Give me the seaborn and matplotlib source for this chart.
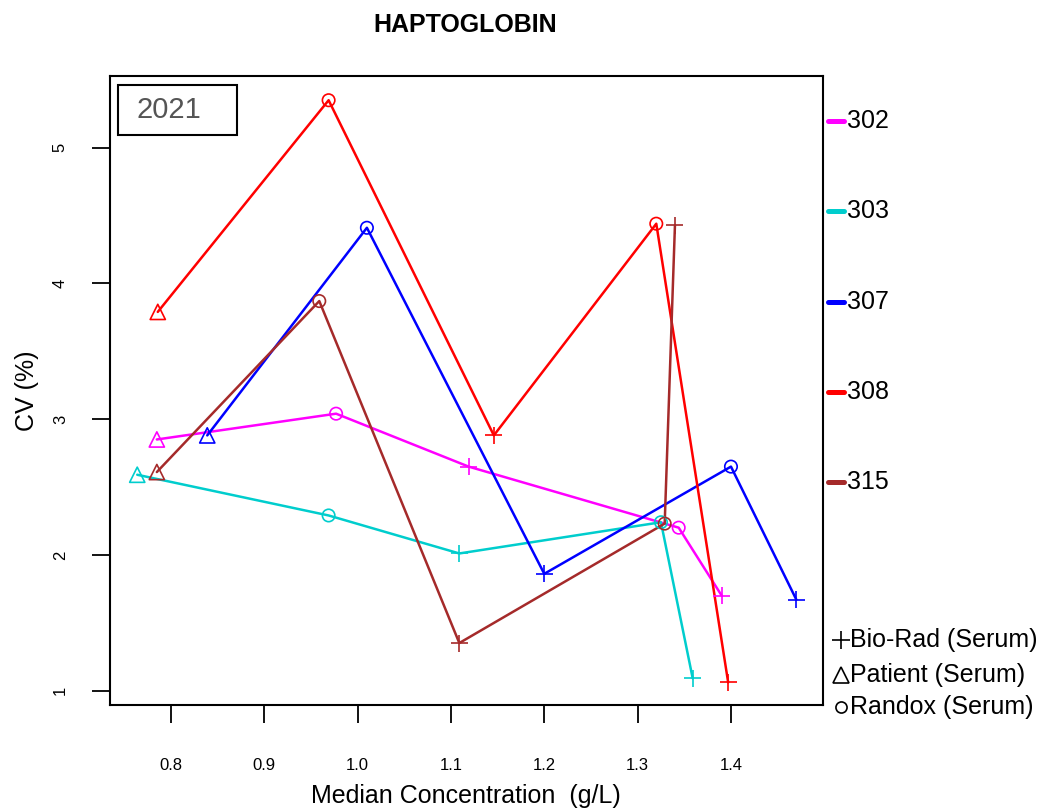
import matplotlib
matplotlib.use("Agg")
import matplotlib.pyplot as plt
from matplotlib.patches import Rectangle
import pandas as pd
import seaborn as sns

# ---- data -------------------------------------------------------------
labs = ["302", "303", "307", "308", "315"]
lab_colors = ["#FF00FF", "#00CDCD", "#0000FF", "#FF0000", "#A52A2A"]

materials = ["Bio-Rad (Serum)", "Patient (Serum)", "Randox (Serum)"]
material_markers = ["+", "^", "o"]

# material of each sample, in order of increasing concentration (same for every lab)
sample_material = ["Patient (Serum)", "Randox (Serum)", "Bio-Rad (Serum)",
                   "Randox (Serum)", "Bio-Rad (Serum)"]

conc_302 = [0.785, 0.977, 1.119, 1.344, 1.390]
cv_302 = [2.85, 3.04, 2.65, 2.20, 1.70]

conc_303 = [0.764, 0.969, 1.109, 1.325, 1.359]
cv_303 = [2.59, 2.29, 2.01, 2.24, 1.09]

conc_307 = [0.839, 1.010, 1.200, 1.400, 1.470]
cv_307 = [2.88, 4.41, 1.86, 2.65, 1.67]

conc_308 = [0.786, 0.969, 1.146, 1.320, 1.397]
cv_308 = [3.79, 5.35, 2.88, 4.44, 1.06]

conc_315 = [0.785, 0.959, 1.109, 1.329, 1.340]
cv_315 = [2.61, 3.87, 1.35, 2.23, 4.43]

x_ticks = [0.8, 0.9, 1.0, 1.1, 1.2, 1.3, 1.4]
x_tick_labels = ["0.8", "0.9", "1.0", "1.1", "1.2", "1.3", "1.4"]
y_ticks = [1, 2, 3, 4, 5]
y_tick_labels = ["1", "2", "3", "4", "5"]

title = "HAPTOGLOBIN"
year_label = "2021"
x_label = "Median Concentration  (g/L)"
y_label = "CV (%)"

# ---- tidy table ---------------------------------------------------------
series = {"302": (conc_302, cv_302), "303": (conc_303, cv_303),
          "307": (conc_307, cv_307), "308": (conc_308, cv_308),
          "315": (conc_315, cv_315)}
rows = []
for lab in labs:
    xs, ys = series[lab]
    for x, y, m in zip(xs, ys, sample_material):
        rows.append({"lab": lab, "material": m, "conc": x, "cv": y})
df = pd.DataFrame(rows)
palette = dict(zip(labs, lab_colors))

# ---- style --------------------------------------------------------------
sns.set_style("white")
plt.rcParams["font.family"] = ["Liberation Sans", "DejaVu Sans"]
plt.rcParams["text.color"] = "black"
plt.rcParams["axes.labelcolor"] = "black"
plt.rcParams["xtick.color"] = "black"
plt.rcParams["ytick.color"] = "black"

fig = plt.figure(figsize=(10.47, 8.10), dpi=100)
ax = fig.add_axes([0.1046, 0.1296, 0.6812, 0.7765])

# connecting lines, one per lab, sorted by concentration
sns.lineplot(data=df, x="conc", y="cv", hue="lab", hue_order=labs,
             palette=palette, estimator=None, sort=True, linewidth=1.8,
             legend=False, ax=ax, zorder=2)

# hollow markers for each control material
marker_sizes = {"+": 150, "^": 120, "o": 80}
for mat, mk in zip(materials, material_markers):
    sub = df[df["material"] == mat]
    sns.scatterplot(data=sub, x="conc", y="cv", hue="lab", hue_order=labs,
                    palette=palette, marker=mk, s=marker_sizes[mk],
                    linewidth=1.2, legend=False, ax=ax, zorder=3)
    coll = ax.collections[-1]
    cols = coll.get_facecolors()
    coll.set_edgecolors(cols)
    coll.set_facecolors("none")
    coll.set_linewidths(1.2)

ax.set_xlim(0.7343, 1.4983)
ax.set_ylim(0.8931, 5.528)

ax.set_xticks(x_ticks)
ax.set_xticklabels(x_tick_labels)
ax.set_yticks(y_ticks)
ax.set_yticklabels(y_tick_labels, rotation=90, va="center")
ax.tick_params(axis="x", direction="out", length=13, width=1.3,
               colors="black", labelsize=12, pad=25, bottom=True)
ax.tick_params(axis="y", direction="out", length=13, width=1.3,
               colors="black", labelsize=12, pad=17, left=True)

for sp in ax.spines.values():
    sp.set_visible(True)
    sp.set_color("black")
    sp.set_linewidth(1.5)

ax.set_xlabel(x_label, fontsize=18, labelpad=8, color="black")
ax.set_ylabel(y_label, fontsize=18, labelpad=10, color="black")

fig.text(0.4446, 0.969, title, ha="center", va="center",
         fontsize=18, fontweight="bold", color="black")

# year box in the top-left corner
ax.add_patch(Rectangle((0.0112, 0.9062), 0.168, 0.0795,
                       transform=ax.transAxes, fill=False,
                       edgecolor="black", linewidth=1.5, zorder=4))
ax.text(0.0385, 0.9459, year_label, transform=ax.transAxes,
        ha="left", va="center", fontsize=21, color="#555555", zorder=5)

# lab key on the right
key_top = 0.9285
key_step = 0.1435
for i, (lab, col) in enumerate(zip(labs, lab_colors)):
    yk = key_top - i * key_step
    ax.plot([1.008, 1.030], [yk, yk], transform=ax.transAxes, color=col,
            linewidth=3.6, solid_capstyle="round", clip_on=False)
    ax.text(1.0335, yk, lab, transform=ax.transAxes, ha="left",
            va="center", fontsize=18, color="black", clip_on=False)

# material key
mat_y = [0.1033, 0.0477, -0.0032]
mat_sizes = {"+": 13, "^": 11, "o": 8}
for mat, mk, yk in zip(materials, material_markers, mat_y):
    ax.plot([1.0255], [yk], transform=ax.transAxes, marker=mk,
            markersize=mat_sizes[mk], markerfacecolor="none",
            markeredgecolor="black", markeredgewidth=1.2,
            linestyle="none", clip_on=False)
    ax.text(1.0385, yk, mat, transform=ax.transAxes, ha="left",
            va="center", fontsize=18, color="black", clip_on=False)

fig.savefig("out.png", dpi=100)
